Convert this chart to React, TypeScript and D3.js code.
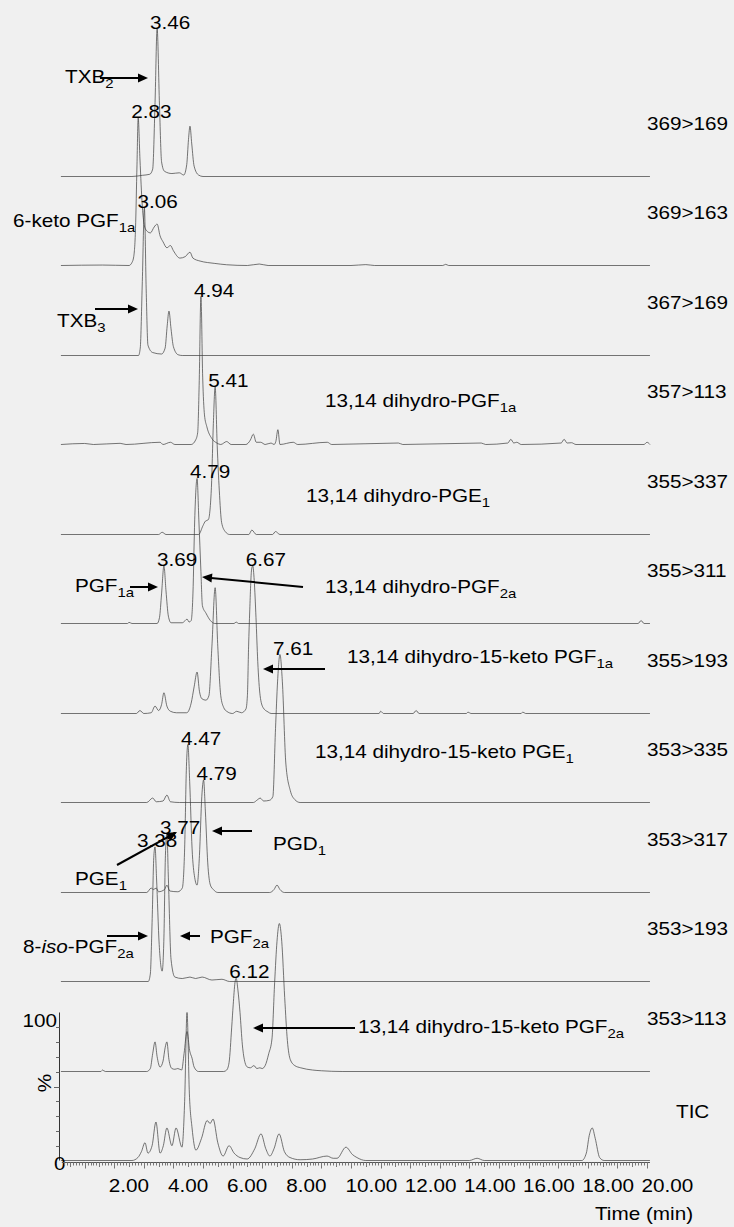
import React from "react";
import * as d3 from "d3";

type Pt = [number, number];

const W = 734;
const H = 1227;

// MRM transitions, top to bottom; the last row is the total ion current
const rowNames = [
  "369>169", "369>163", "367>169", "357>113", "355>337", "355>311",
  "355>193", "353>335", "353>317", "353>193", "353>113", "TIC",
];

// each trace: [time (min), relative intensity (%)]
const t369_169: Pt[] = [
  [0.2, 0], [2.6, 0], [2.95, 0.8], [3.2, 1.5], [3.3, 5], [3.38, 50], [3.45, 100], [3.53, 48],
  [3.6, 10], [3.7, 3.5], [3.95, 2], [4.2, 2.5], [4.35, 1], [4.45, 8], [4.51, 25], [4.56, 34],
  [4.62, 22], [4.7, 7], [4.85, 1], [5.0, 0], [20.1, 0],
];
const t369_163: Pt[] = [
  [0.2, 0], [1.6, 0.3], [2.5, 0], [2.6, 2], [2.66, 6], [2.72, 25], [2.77, 68], [2.81, 100],
  [2.87, 72], [2.95, 40], [3.03, 26], [3.12, 23], [3.22, 22], [3.35, 26], [3.45, 28], [3.55, 20],
  [3.65, 16], [3.78, 12], [3.9, 13.5], [4.0, 10], [4.22, 5], [4.4, 6], [4.56, 9], [4.66, 5],
  [4.9, 3], [5.15, 2], [5.4, 1.4], [5.8, 0.5], [6.5, 0], [6.9, 1], [7.2, 0], [10.0, 0],
  [10.5, 0.6], [10.8, 0], [13.1, 0], [13.2, 0.8], [13.3, 0], [20.1, 0],
];
const t367_169: Pt[] = [
  [0.2, 0], [2.82, 0], [2.88, 5], [2.95, 50], [3.02, 100], [3.08, 45], [3.14, 7], [3.3, 2],
  [3.6, 1], [3.72, 5], [3.79, 20], [3.85, 30], [3.92, 18], [4.0, 6], [4.16, 0.5], [4.3, 0],
  [20.1, 0],
];
const t357_113: Pt[] = [
  [0.2, 0], [1.0, 0.7], [1.3, 0], [2.2, 0.8], [2.4, 0], [3.55, 1.5], [3.65, 0], [3.9, 1.5],
  [4.05, 0], [4.6, 0], [4.75, 3], [4.82, 8], [4.87, 40], [4.93, 100], [4.99, 45], [5.05, 20],
  [5.13, 12], [5.3, 4], [5.47, 1], [5.6, 0], [5.8, 2], [5.95, 0], [6.45, 0], [6.6, 3], [6.7, 7],
  [6.8, 1.5], [6.95, 1.5], [7.1, 0], [7.3, 1], [7.4, 0], [7.46, 2], [7.53, 10], [7.6, 0],
  [8.05, 1.5], [8.2, 0], [9.2, 1.5], [9.35, 0], [11.6, 1], [11.75, 0], [14.4, 1], [14.55, 0],
  [15.3, 1], [15.4, 3.5], [15.5, 1], [15.6, 1.5], [15.75, 0], [17.1, 1], [17.2, 3.5], [17.3, 1],
  [17.45, 1.2], [17.6, 0], [19.9, 0], [20.0, 1.5], [20.1, 0],
];
const t355_337: Pt[] = [
  [0.2, 0], [3.5, 0], [3.62, 1.5], [3.75, 0], [4.85, 0], [5.0, 6], [5.08, 9], [5.18, 10],
  [5.28, 30], [5.35, 75], [5.41, 100], [5.48, 60], [5.55, 30], [5.63, 8], [5.75, 2], [5.9, 0],
  [6.55, 0], [6.65, 3], [6.8, 0], [7.35, 0], [7.45, 2], [7.6, 0], [20.1, 0],
];
const t355_311: Pt[] = [
  [0.2, 0], [2.45, 0], [2.5, 0.8], [2.6, 0], [3.45, 0], [3.53, 4], [3.6, 20], [3.68, 39],
  [3.75, 22], [3.83, 5], [3.92, 0.5], [4.3, 0.5], [4.4, 2], [4.46, 3], [4.53, 1], [4.6, 2],
  [4.66, 20], [4.72, 70], [4.8, 98], [4.86, 70], [4.93, 35], [4.98, 12], [5.1, 7], [5.25, 2],
  [5.4, 0], [6.05, 0], [6.12, 1], [6.2, 0], [19.7, 0], [19.8, 2], [19.9, 0], [20.1, 0],
];
const t355_193: Pt[] = [
  [0.2, 0], [2.75, 0], [2.87, 2], [3.0, 0], [3.25, 0.5], [3.38, 5], [3.5, 2], [3.6, 6],
  [3.68, 14], [3.78, 5], [3.9, 1.5], [4.1, 0.5], [4.45, 0.5], [4.6, 7], [4.7, 18], [4.8, 28],
  [4.88, 15], [4.96, 10], [5.1, 9], [5.2, 12], [5.3, 45], [5.41, 85], [5.5, 45], [5.6, 12],
  [5.7, 4], [5.8, 1.5], [6.0, 0], [6.14, 1.5], [6.3, 0.5], [6.45, 3], [6.5, 12], [6.54, 45],
  [6.58, 70], [6.64, 97], [6.68, 100], [6.73, 90], [6.79, 65], [6.85, 35], [6.93, 12],
  [7.03, 4], [7.2, 1], [7.3, 0], [10.95, 0], [11.0, 1.5], [11.1, 0], [12.1, 0], [12.2, 2],
  [12.3, 0], [13.9, 0], [13.95, 1], [14.05, 0], [15.75, 0], [15.8, 1], [15.9, 0], [20.1, 0],
];
const t353_335: Pt[] = [
  [0.2, 0], [3.1, 0], [3.3, 3], [3.42, 0.5], [3.65, 1], [3.78, 5], [3.9, 0.5], [4.2, 0],
  [6.7, 0], [6.85, 2], [6.93, 3], [7.05, 1], [7.25, 1.5], [7.36, 4], [7.45, 50], [7.52, 82],
  [7.6, 100], [7.68, 82], [7.8, 26], [7.95, 8], [8.1, 2], [8.28, 0], [20.1, 0],
];
const t353_317: Pt[] = [
  [0.2, 0], [3.1, 0], [3.25, 3], [3.32, 2], [3.42, 3], [3.5, 0.5], [3.7, 2], [3.78, 5],
  [3.88, 1], [4.15, 0.5], [4.3, 3], [4.38, 30], [4.44, 85], [4.49, 100], [4.55, 75], [4.63, 30],
  [4.72, 10], [4.8, 5], [4.88, 25], [4.96, 65], [5.02, 76], [5.08, 55], [5.16, 20], [5.25, 5],
  [5.35, 2], [5.5, 0], [7.25, 0], [7.4, 2], [7.5, 5], [7.6, 2], [7.75, 0], [20.1, 0],
];
const t353_193: Pt[] = [
  [0.2, 0], [3.15, 0], [3.22, 5], [3.28, 40], [3.34, 85], [3.38, 91], [3.43, 70], [3.52, 25],
  [3.62, 7], [3.68, 30], [3.73, 85], [3.78, 100], [3.83, 70], [3.92, 15], [4.05, 3], [4.3, 2],
  [4.56, 3], [4.75, 2], [4.97, 3], [5.3, 1], [5.64, 1.5], [5.9, 0], [20.1, 0],
];
const t353_113: Pt[] = [
  [0.2, 0], [1.55, 0], [1.6, 1], [1.7, 0], [3.1, 0], [3.22, 2], [3.3, 12], [3.38, 20],
  [3.45, 10], [3.55, 3], [3.65, 7], [3.72, 16], [3.78, 20], [3.85, 8], [3.95, 2], [4.05, 1.5],
  [4.15, 2], [4.28, 1], [4.36, 12], [4.46, 27], [4.55, 14], [4.63, 9], [4.7, 3], [4.85, 0],
  [5.7, 0], [5.8, 1], [5.88, 6], [5.97, 30], [6.02, 45], [6.08, 60], [6.12, 63], [6.18, 55],
  [6.25, 40], [6.33, 18], [6.42, 6], [6.5, 3], [6.6, 2.5], [6.72, 4], [6.82, 2], [6.92, 2.5],
  [7.0, 2], [7.1, 4], [7.22, 12], [7.33, 22], [7.42, 60], [7.5, 88], [7.58, 100], [7.66, 88],
  [7.76, 50], [7.85, 21], [7.95, 8], [8.1, 4], [8.3, 2.5], [8.7, 1], [9.0, 0.5], [9.7, 0],
  [20.1, 0],
];
const tic: Pt[] = [
  [0.2, 0], [2.6, 0], [2.8, 2], [2.92, 6], [3.04, 12], [3.14, 5], [3.28, 10], [3.41, 26],
  [3.55, 5], [3.66, 10], [3.78, 22], [3.95, 10], [4.09, 22], [4.29, 9], [4.38, 40], [4.46, 100],
  [4.54, 45], [4.63, 22], [4.76, 7], [4.95, 15], [5.14, 27], [5.24, 25], [5.34, 28], [5.5, 12],
  [5.68, 3], [5.88, 10], [6.05, 5], [6.25, 2], [6.49, 1], [6.75, 8], [6.96, 18], [7.12, 8],
  [7.26, 3], [7.4, 8], [7.57, 18], [7.75, 6], [7.94, 2], [8.28, 0.5], [8.7, 1], [9.19, 3],
  [9.4, 1.5], [9.53, 1.5], [9.83, 9], [10.05, 4], [10.2, 2], [10.5, 0], [14.0, 0], [14.26, 1.5],
  [14.5, 0], [17.8, 0], [17.95, 5], [18.05, 17], [18.15, 22], [18.25, 15], [18.4, 2], [18.55, 0],
  [20.1, 0],
];

const traces: Pt[][] = [
  t369_169, t369_163, t367_169, t357_113, t355_337, t355_311,
  t355_193, t353_335, t353_317, t353_193, t353_113, tic,
];

// retention-time labels: [row, apex time, text]
const peakLabels: [number, number, string][] = [
  [0, 3.45, "3.46"], [1, 2.81, "2.83"], [2, 3.02, "3.06"], [3, 4.93, "4.94"],
  [4, 5.41, "5.41"], [5, 4.8, "4.79"], [5, 3.68, "3.69"], [6, 6.68, "6.67"],
  [7, 7.6, "7.61"], [8, 4.49, "4.47"], [8, 5.02, "4.79"], [9, 3.78, "3.77"],
  [9, 3.38, "3.38"], [10, 6.12, "6.12"],
];

const xTickLabels = [2, 4, 6, 8, 10, 12, 14, 16, 18, 20];
const yTickLabels = ["0", "100"];

// compound names: text parts (n = normal, i = italic, s = subscript)
type Part = [string, "n" | "i" | "s"];
const compounds: Part[][] = [
  [["TXB", "n"], ["2", "s"]],
  [["6-keto PGF", "n"], ["1a", "s"]],
  [["TXB", "n"], ["3", "s"]],
  [["13,14 dihydro-PGF", "n"], ["1a", "s"]],
  [["13,14 dihydro-PGE", "n"], ["1", "s"]],
  [["PGF", "n"], ["1a", "s"]],
  [["13,14 dihydro-PGF", "n"], ["2a", "s"]],
  [["13,14 dihydro-15-keto PGF", "n"], ["1a", "s"]],
  [["13,14 dihydro-15-keto PGE", "n"], ["1", "s"]],
  [["PGD", "n"], ["1", "s"]],
  [["PGE", "n"], ["1", "s"]],
  [["8-", "n"], ["iso", "i"], ["-PGF", "n"], ["2a", "s"]],
  [["PGF", "n"], ["2a", "s"]],
  [["13,14 dihydro-15-keto PGF", "n"], ["2a", "s"]],
];

// layout of the compound callouts (page pixels): text anchor and optional arrow tail->tip
const calloutLayout: { x: number; y: number; arrow?: [number, number, number, number] }[] = [
  { x: 65, y: 83, arrow: [100, 78, 148, 78] },
  { x: 13, y: 227 },
  { x: 57, y: 327, arrow: [95, 309, 138, 309] },
  { x: 325, y: 407 },
  { x: 306, y: 502 },
  { x: 75, y: 592, arrow: [130, 587, 158, 587] },
  { x: 325, y: 593, arrow: [303, 587, 202, 577] },
  { x: 347, y: 663, arrow: [325, 669, 263, 669] },
  { x: 315, y: 758 },
  { x: 273, y: 850, arrow: [252, 831, 212, 831] },
  { x: 75, y: 885, arrow: [117, 865, 177, 832] },
  { x: 23, y: 953, arrow: [107, 936, 148, 936] },
  { x: 210, y: 943, arrow: [200, 936, 180, 936] },
  { x: 358, y: 1033, arrow: [355, 1028, 253, 1028] },
];

// retention-time labels that sit further left than the usual offset
const labelShift: Record<string, number> = { "3.38": -11 };

const FONT = "'Liberation Sans', Arial, Helvetica, sans-serif";
const SX = 1.15; // the figure's lettering is stretched a little horizontally
const ROW_H = 148; // pixels for 100 %

const x = d3.scaleLinear().domain([0, 20]).range([55, 647]);
const rows = d3.scalePoint<number>().domain(d3.range(rowNames.length)).range([176, 1160]);
const base = (i: number) => Math.round(rows(i) as number) + 0.5;
const yRow = (i: number) => d3.scaleLinear().domain([0, 100]).range([base(i), base(i) - ROW_H]);

const Txt = ({ x: tx, y: ty, anchor = "start", size = 18, children }: any) => (
  <text
    transform={`translate(${tx},${ty}) scale(${SX},1)`}
    textAnchor={anchor}
    fontFamily={FONT}
    fontSize={size}
    fill="#000"
  >
    {children}
  </text>
);

const Arrow = ({ a }: { a: [number, number, number, number] }) => {
  const [x1, y1, x2, y2] = a;
  const ang = Math.atan2(y2 - y1, x2 - x1);
  const len = 10;
  const hw = 4.5;
  const bx = x2 - len * Math.cos(ang);
  const by = y2 - len * Math.sin(ang);
  const px = -Math.sin(ang) * hw;
  const py = Math.cos(ang) * hw;
  return (
    <g>
      <line x1={x1} y1={y1} x2={bx + Math.cos(ang)} y2={by + Math.sin(ang)} stroke="#000" strokeWidth={2} />
      <polygon points={`${x2},${y2} ${bx + px},${by + py} ${bx - px},${by - py}`} fill="#000" />
    </g>
  );
};

export default function App() {
  const xAxisY = 1162.5;
  const minorTicks = d3.range(3, 201).map((k) => k / 10);
  const tic0 = yRow(rowNames.length - 1);

  return (
    <svg
      width={W}
      height={H}
      viewBox={`0 0 ${W} ${H}`}
      style={{ position: "absolute", left: 0, top: 0, display: "block" }}
    >
      <rect x={0} y={0} width={W} height={H} fill="#f0f0f0" />

      {/* traces */}
      {traces.map((pts, i) => {
        const y = yRow(i);
        const line = d3
          .line<Pt>()
          .x((d) => x(d[0]))
          .y((d) => y(d[1]))
          .curve(d3.curveMonotoneX);
        return (
          <path key={i} d={line(pts) || ""} fill="none" stroke="#3c3c3c" strokeWidth={0.7} />
        );
      })}

      {/* transition labels on the right */}
      {rowNames.map((name, i) =>
        name === "TIC" ? (
          <Txt key={name} x={676} y={base(i) - 43}>
            {name}
          </Txt>
        ) : (
          <Txt key={name} x={647} y={base(i) - 47}>
            {name}
          </Txt>
        )
      )}

      {/* retention times at the apexes */}
      {peakLabels.map(([r, t, s], k) => {
        const pts = traces[r];
        const v = d3.max(pts.filter((p) => Math.abs(p[0] - t) < 0.02), (p) => p[1]) ?? 100;
        return (
          <Txt key={k} x={x(t) - 7 + (labelShift[s] ?? 0)} y={yRow(r)(v)}>
            {s}
          </Txt>
        );
      })}

      {/* compound names and arrows */}
      {compounds.map((parts, k) => {
        const L = calloutLayout[k];
        return (
          <g key={k}>
            <Txt x={L.x} y={L.y}>
              {parts.map(([s, kind], j) =>
                kind === "s" ? (
                  <tspan key={j} fontSize={13} dy={5}>
                    {s}
                  </tspan>
                ) : kind === "i" ? (
                  <tspan key={j} fontStyle="italic">
                    {s}
                  </tspan>
                ) : (
                  <tspan key={j}>{s}</tspan>
                )
              )}
            </Txt>
            {L.arrow && <Arrow a={L.arrow} />}
          </g>
        );
      })}

      {/* TIC intensity axis */}
      <line x1={59.5} x2={59.5} y1={tic0(100)} y2={tic0(0)} stroke="#333" strokeWidth={1} />
      {d3.range(10, 100, 10).map((v) => (
        <line key={v} x1={59.5} x2={v === 50 ? 54 : 56} y1={Math.round(tic0(v)) + 0.5} y2={Math.round(tic0(v)) + 0.5} stroke="#666" strokeWidth={1} />
      ))}
      <Txt x={57} y={1027} anchor="end">
        {yTickLabels[1]}
      </Txt>
      <Txt x={54} y={1170}>
        {yTickLabels[0]}
      </Txt>
      <text
        transform={`translate(51,1083) rotate(-90) scale(${SX},1)`}
        textAnchor="middle"
        fontFamily={FONT}
        fontSize={18}
      >
        %
      </text>

      {/* time axis */}
      <line x1={x(0.23)} x2={x(20.1)} y1={xAxisY} y2={xAxisY} stroke="#555" strokeWidth={1} />
      {minorTicks.map((t) => {
        const whole = Math.abs(t - Math.round(t)) < 1e-6;
        const half = Math.abs(t * 2 - Math.round(t * 2)) < 1e-6;
        const len = whole ? 6 : half ? 4.5 : 3;
        const xx = Math.round(x(t)) + 0.5;
        return <line key={t} x1={xx} x2={xx} y1={xAxisY} y2={xAxisY + len} stroke="#777" strokeWidth={1} />;
      })}
      {xTickLabels.map((v) => (
        <Txt key={v} x={x(v) - 5.5} y={1192}>
          {d3.format(".2f")(v)}
        </Txt>
      ))}
      <Txt x={595} y={1220}>
        Time (min)
      </Txt>
    </svg>
  );
}
